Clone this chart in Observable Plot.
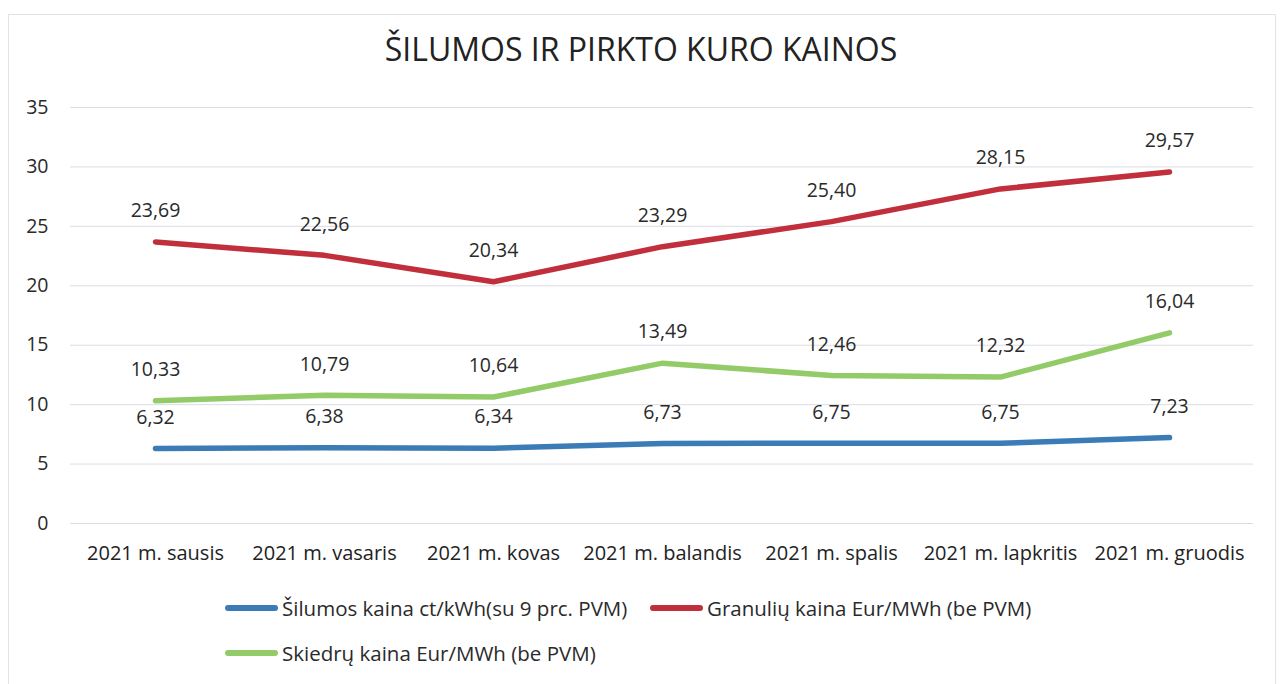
<!DOCTYPE html>
<html>
<head>
<meta charset="utf-8">
<script src="https://cdn.jsdelivr.net/npm/d3@7"></script>
<script src="https://cdn.jsdelivr.net/npm/@observablehq/plot@0.6"></script>
<style>
  body { margin: 0; background: #fff; font-family: "Open Sans", sans-serif; }
  #wrap { position: relative; width: 1282px; height: 684px; overflow: hidden; background: #fff; }
  #frame { position: absolute; left: 8px; top: 14px; width: 1266px; height: 700px; border: 1px solid #e2e2ea; }
  #title { position: absolute; top: 27px; left: 0; width: 1282px; text-align: center; font-size: 32px; color: #222; }
  #chart { position: absolute; top: 85px; left: 0; }
  .leg { position: absolute; display: flex; align-items: center; font-size: 20.5px; color: #2a2a2a; white-space: nowrap; }
  .sw { display: inline-block; width: 53px; height: 6px; border-radius: 3px; margin-right: 4px; }
</style>
</head>
<body>
<div id="wrap">
  <div id="frame"></div>
  <div id="title">ŠILUMOS IR PIRKTO KURO KAINOS</div>
  <div id="chart"></div>
  <div id="legend"></div>
</div>
<script>
const months = ["2021 m. sausis", "2021 m. vasaris", "2021 m. kovas", "2021 m. balandis", "2021 m. spalis", "2021 m. lapkritis", "2021 m. gruodis"];
const seriesNames = ["Šilumos kaina ct/kWh(su 9 prc. PVM)", "Granulių kaina Eur/MWh (be PVM)", "Skiedrų kaina Eur/MWh (be PVM)"];
const seriesColors = ["#3b7bb6", "#c22f3c", "#93cb69"];
const silumos = [6.32, 6.38, 6.34, 6.73, 6.75, 6.75, 7.23];
const granules = [23.69, 22.56, 20.34, 23.29, 25.40, 28.15, 29.57];
const skiedros = [10.33, 10.79, 10.64, 13.49, 12.46, 12.32, 16.04];
const yTicks = [0, 5, 10, 15, 20, 25, 30, 35];

const allSeries = [silumos, granules, skiedros];
const data = [];
allSeries.forEach((vals, si) => vals.forEach((v, i) => data.push({month: months[i], v, s: seriesNames[si]})));

const fmt = v => v.toFixed(2).replace(".", ",");

const chart = Plot.plot({
  width: 1282,
  height: 490,
  marginLeft: 70,
  marginRight: 29,
  marginTop: 22,
  marginBottom: 52,
  style: {fontFamily: "Open Sans, sans-serif", fontSize: "18px", color: "#333", background: "transparent"},
  x: {type: "point", domain: months, padding: 0.5, label: null},
  y: {domain: [0, 35], ticks: yTicks, label: null},
  color: {domain: seriesNames, range: seriesColors},
  marks: [
    Plot.gridY(yTicks, {stroke: "#dcdce8", strokeOpacity: 1, strokeWidth: 1}),
    Plot.axisY(yTicks, {tickSize: 0, tickPadding: 22, fontSize: 19.5, fill: "#2a2a2a", label: null}),
    Plot.axisX({tickSize: 0, tickPadding: 22, fontSize: 20, fill: "#222", label: null}),
    Plot.line(data, {x: "month", y: "v", z: "s", stroke: "s", strokeWidth: 5.5, curve: "linear", strokeLinecap: "round", strokeLinejoin: "round"}),
    Plot.text(data, {x: "month", y: "v", text: d => fmt(d.v), dy: -31, fontSize: 19.5, fill: "#2a2a2a"})
  ]
});
document.getElementById("chart").appendChild(chart);

const legendRows = [
  {items: [0, 1], top: 594},
  {items: [2], top: 639}
];
const legend = document.getElementById("legend");
const lefts = [[225, 650], [225]];
legendRows.forEach((row, ri) => {
  row.items.forEach((si, k) => {
    const el = document.createElement("div");
    el.className = "leg";
    el.style.top = row.top + "px";
    el.style.left = lefts[ri][k] + "px";
    el.innerHTML = `<span class="sw" style="background:${seriesColors[si]}"></span>${seriesNames[si]}`;
    legend.appendChild(el);
  });
});
</script>
</body>
</html>
